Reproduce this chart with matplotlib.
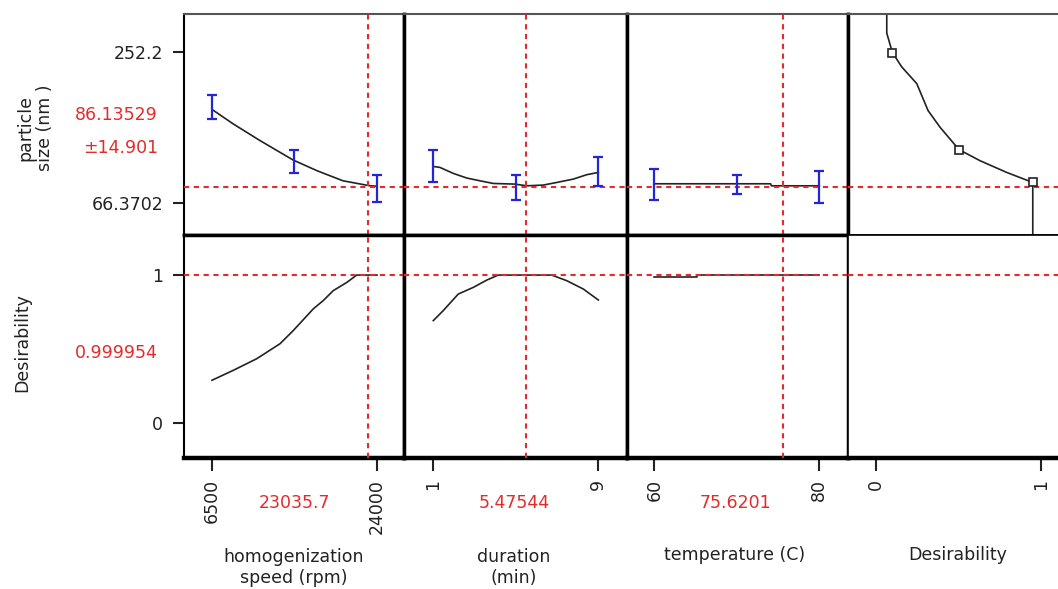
import numpy as np
import matplotlib
matplotlib.use("Agg")
import matplotlib.pyplot as plt

# current settings / predictions
speed_now = 23035.7
dur_now = 5.47544
temp_now = 75.6201
size_now = 86.13529
size_ci = 14.901
des_now = 0.999954

# particle size profiles
speed_x = [6500, 8730, 11590, 15090, 17640, 20390, 23260, 24000]
speed_y = [181.6, 163.9, 143.2, 119.3, 106.0, 93.6, 87.4, 86.9]
speed_bar_x = [6500, 15250, 24000]
speed_bar_lo = [169.2, 103.5, 67.6]
speed_bar_hi = [199.0, 132.0, 101.1]

dur_x = [1, 1.32, 1.97, 2.62, 3.26, 3.91, 4.96, 5.53, 6.33, 6.98, 7.79, 8.44, 9]
dur_y = [111.3, 110.1, 102.7, 97.0, 93.6, 90.3, 89.5, 87.4, 88.3, 91.5, 95.7, 101.1, 103.9]
dur_bar_x = [1, 5, 9]
dur_bar_lo = [91.5, 70.1, 87.4]
dur_bar_hi = [131.7, 101.1, 122.5]

temp_x = [60, 74.1, 74.2, 80]
temp_y = [89.9, 89.9, 87.4, 87.4]
temp_bar_x = [60, 70, 80]
temp_bar_lo = [70.1, 77.9, 66.0]
temp_bar_hi = [108.1, 101.1, 105.1]

# desirability profiles
speed_dx = [6500, 8760, 11240, 13710, 15120, 17240, 18300, 19360, 20790, 21850, 24000]
speed_dy = [0.291, 0.358, 0.436, 0.537, 0.626, 0.772, 0.828, 0.895, 0.950, 1.0, 1.0]
dur_dx = [1, 1.48, 2.21, 2.94, 3.59, 4.15, 6.74, 7.47, 8.27, 9]
dur_dy = [0.693, 0.760, 0.872, 0.917, 0.966, 1.0, 1.0, 0.962, 0.906, 0.832]
temp_dx = [60, 65.2, 65.2, 80]
temp_dy = [0.989, 0.989, 1.0, 1.0]

# desirability function for particle size
dfun_d = [0.065, 0.065, 0.099, 0.156, 0.247, 0.315, 0.388, 0.503, 0.630, 0.792, 0.950, 0.950]
dfun_y = [310, 275.7, 251.8, 234.0, 213.4, 180.3, 159.6, 132.0, 118.4, 103.9, 91.5, 10]
dfun_pts_d = [0.099, 0.503, 0.950]
dfun_pts_y = [251.8, 132.0, 91.5]

W, H = 1058, 589
fig = plt.figure(figsize=(W / 100, H / 100), dpi=100)

RED = "#e42a2a"
BLUE = "#2424d8"
FS = 12.5


def rect(x0, y0, x1, y1):
    return [x0 / W, 1 - y1 / H, (x1 - x0) / W, (y1 - y0) / H]


cols = [184, 404, 627, 848, 1075]
xlims = [(3530, 26864), (-0.42, 10.39), (56.69, 83.48), (-0.170, 1.206)]
top_ylim = (26.73, 299.3)
bot_ylim = (-0.233, 1.270)

top_axes, bot_axes = [], []
for i in range(4):
    at = fig.add_axes(rect(cols[i], 14, cols[i + 1], 235))
    ab = fig.add_axes(rect(cols[i], 235, cols[i + 1], 458))
    for a, yl in [(at, top_ylim), (ab, bot_ylim)]:
        a.set_xlim(*xlims[i])
        a.set_ylim(*yl)
        a.set_xticks([])
        a.set_yticks([])
    # frame styling
    at.spines["top"].set(linewidth=1.5, color="#555555")
    at.spines["bottom"].set(linewidth=2.5 if i < 3 else 1.2)
    ab.spines["top"].set(linewidth=2.5 if i < 3 else 1.2)
    ab.spines["bottom"].set(linewidth=3.2)
    lw_left = 1.5 if i == 0 else (2.5 if i < 3 else None)
    at.spines["left"].set_linewidth(1.5 if i == 0 else 2.5)
    ab.spines["left"].set_linewidth(1.5 if i == 0 else (2.5 if i < 3 else 1.2))
    at.spines["right"].set_linewidth(2.5)
    ab.spines["right"].set_linewidth(2.5)
    if i == 3:
        at.spines["right"].set_visible(False)
        ab.spines["right"].set_visible(False)
    top_axes.append(at)
    bot_axes.append(ab)

dash = dict(color=RED, lw=1.5, dashes=(2.5, 2.2), zorder=3)

profiles = [
    (speed_x, speed_y, speed_bar_x, speed_bar_lo, speed_bar_hi, speed_dx, speed_dy, speed_now),
    (dur_x, dur_y, dur_bar_x, dur_bar_lo, dur_bar_hi, dur_dx, dur_dy, dur_now),
    (temp_x, temp_y, temp_bar_x, temp_bar_lo, temp_bar_hi, temp_dx, temp_dy, temp_now),
]
for i, (cx, cy, bx, blo, bhi, dx, dy, now) in enumerate(profiles):
    at, ab = top_axes[i], bot_axes[i]
    at.plot(cx, cy, color="#222222", lw=1.2, zorder=2)
    lo, hi = np.array(blo), np.array(bhi)
    at.errorbar(bx, (lo + hi) / 2, yerr=(hi - lo) / 2, fmt="none",
                ecolor=BLUE, elinewidth=1.6, capsize=3.5, capthick=1.6, zorder=4)
    ab.plot(dx, dy, color="#222222", lw=1.2, zorder=2)
    for a in (at, ab):
        a.axvline(now, **dash)

for a in top_axes:
    a.axhline(size_now, **dash)
for a in bot_axes:
    a.axhline(des_now, **dash)

# desirability trace for particle size
top_axes[3].plot(dfun_d, dfun_y, color="#222222", lw=1.2, zorder=2)
top_axes[3].plot(dfun_pts_d, dfun_pts_y, ls="none", marker="s", ms=6,
                 mfc="white", mec="#222222", mew=1.2, zorder=5)

# ticks
tick_kw = dict(direction="out", length=8, width=1.5, labelsize=FS, colors="#222222")
top_axes[0].set_yticks([66.3702, 252.2], ["66.3702", "252.2"])
top_axes[0].tick_params(axis="y", pad=7, **tick_kw)
bot_axes[0].set_yticks([0, 1], ["0", "1"])
bot_axes[0].tick_params(axis="y", pad=7, **tick_kw)

xticks = [[6500, 24000], [1, 9], [60, 80], [0, 1]]
for a, t in zip(bot_axes, xticks):
    a.set_xticks(t, [str(v) for v in t], rotation=90)
    a.tick_params(axis="x", pad=6, **dict(tick_kw, length=9))

# text
fig.text(35 / W, 1 - 128 / H, "particle\nsize (nm )", rotation=90, ha="center",
         va="center", fontsize=FS, color="#222222", linespacing=1.15)
fig.text(22 / W, 1 - 343 / H, "Desirability", rotation=90, ha="center",
         va="center", fontsize=FS, color="#222222")
fig.text(158 / W, 1 - 115 / H, f"{size_now:.5f}", ha="right", va="center",
         fontsize=FS, color=RED)
fig.text(158 / W, 1 - 148 / H, f"\u00b1{size_ci}", ha="right", va="center",
         fontsize=FS, color=RED)
fig.text(158 / W, 1 - 353 / H, f"{des_now}", ha="right", va="center",
         fontsize=FS, color=RED)

now_labels = ["23035.7", "5.47544", "75.6201"]
xcent = [294, 514, 735, 958]
for xc, s in zip(xcent, now_labels):
    fig.text(xc / W, 1 - 503 / H, s, ha="center", va="center", fontsize=FS, color=RED)

xlabels = ["homogenization\nspeed (rpm)", "duration\n(min)", "temperature (C)", "Desirability"]
for xc, s in zip(xcent, xlabels):
    yc = 567.5 if "\n" in s else 555
    fig.text(xc / W, 1 - yc / H, s, ha="center", va="center", fontsize=FS,
             color="#222222", linespacing=1.25)

fig.savefig("out.png", dpi=100)
